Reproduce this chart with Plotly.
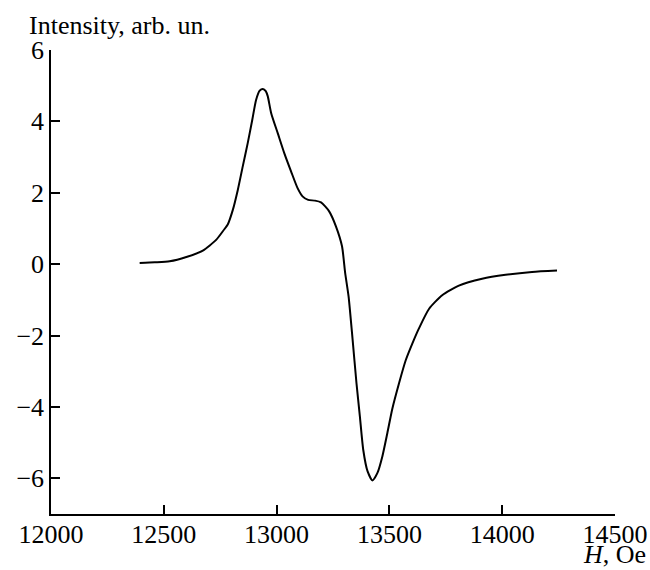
import plotly.graph_objects as go

field_oe = [12393, 12460, 12526, 12600, 12673, 12732, 12765, 12784, 12806, 12828,
            12850, 12872, 12892, 12909, 12925, 12939, 12952, 12961, 12976, 13005,
            13034, 13064, 13093, 13115, 13140, 13170, 13197, 13233, 13263, 13290,
            13304, 13319, 13337, 13354, 13369, 13384, 13403, 13425, 13447, 13469,
            13491, 13513, 13543, 13572, 13602, 13631, 13676, 13734, 13808, 13911,
            14015, 14132, 14243]
intensity = [0.03, 0.05, 0.08, 0.20, 0.38, 0.68, 0.95, 1.12, 1.52, 2.08,
             2.74, 3.39, 4.04, 4.60, 4.86, 4.91, 4.85, 4.70, 4.23, 3.67,
             3.11, 2.60, 2.13, 1.90, 1.80, 1.78, 1.73, 1.48, 1.06, 0.50,
             -0.25, -0.90, -2.12, -3.33, -4.26, -5.20, -5.80, -6.06, -5.85, -5.38,
             -4.73, -4.05, -3.33, -2.70, -2.22, -1.80, -1.25, -0.87, -0.60, -0.41,
             -0.30, -0.22, -0.18]

x_ticks = [12000, 12500, 13000, 13500, 14000, 14500]
y_ticks = [-6, -4, -2, 0, 2, 4, 6]
y_tick_text = ["\u22126", "\u22124", "\u22122", "0", "2", "4", "6"]

FONT = "Liberation Serif"
SIZE = 26

fig = go.Figure()
fig.add_trace(go.Scatter(
    x=field_oe, y=intensity, mode="lines",
    line=dict(color="black", width=2, shape="spline", smoothing=0.6),
    hoverinfo="skip", showlegend=False,
))

axis_common = dict(
    showgrid=False, zeroline=False, showline=True, linecolor="black", linewidth=1.5,
    ticks="inside", ticklen=9, tickwidth=1.5, tickcolor="black",
    tickfont=dict(family=FONT, size=SIZE, color="black"),
    automargin=False,
)

fig.update_layout(
    width=650, height=570,
    margin=dict(l=51, r=35, t=50, b=56),
    paper_bgcolor="white", plot_bgcolor="white",
    font=dict(family=FONT, color="black"),
    xaxis=dict(range=[12000, 14500], tickvals=x_ticks,
               ticktext=[str(v) for v in x_ticks], ticklabelstandoff=-4, **axis_common),
    yaxis=dict(range=[-7, 6], tickvals=y_ticks, ticktext=y_tick_text, **axis_common),
    annotations=[
        dict(text="Intensity, arb. un.", xref="paper", yref="paper",
             x=-0.043, y=1.0175, xanchor="left", yanchor="bottom", showarrow=False,
             font=dict(family=FONT, size=SIZE, color="black")),
        dict(text="<i>H</i>, Oe", xref="paper", yref="paper",
             x=1.057, y=-0.053, xanchor="right", yanchor="top", showarrow=False,
             borderpad=0,
             font=dict(family=FONT, size=SIZE, color="black")),
    ],
)

fig.write_html(
    "out.html",
    config={"displayModeBar": False},
    post_script="document.body.style.margin='0';document.body.style.overflow='hidden';",
)
